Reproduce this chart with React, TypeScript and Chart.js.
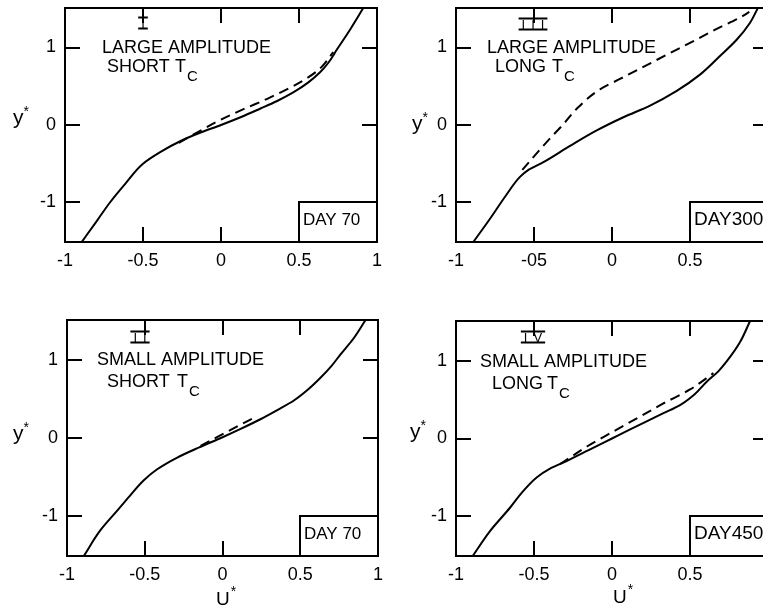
import React, { useEffect, useRef } from "react";
import { Chart, registerables } from "chart.js";

Chart.register(...registerables);

// ---- axis ticks ----
const xTickValues = [-1, -0.5, 0, 0.5, 1];
const xTickLabels = ["-1", "-0.5", "0", "0.5", "1"];
const xTickLabelsIII = ["-1", "-05", "0", "0.5", "1"];
const yTickValues = [-1, 0, 1];
const yTickLabels = ["-1", "0", "1"];

// ---- Panel I : large amplitude, short Tc (day 70) ----
const solidI_u = [-0.893, -0.8, -0.712, -0.61, -0.5, -0.39, -0.252, -0.135, 0.0, 0.125, 0.25, 0.36, 0.463, 0.56, 0.635, 0.687, 0.745, 0.83, 0.912];
const solidI_y = [-1.51, -1.25, -1.0, -0.75, -0.5, -0.35, -0.2, -0.1, 0.0, 0.1, 0.21, 0.31, 0.42, 0.55, 0.68, 0.8, 0.98, 1.24, 1.51];
const dashedI_u = [-0.27, -0.12, 0.0, 0.15, 0.293, 0.506, 0.63, 0.72];
const dashedI_y = [-0.23, -0.06, 0.07, 0.21, 0.335, 0.55, 0.72, 0.94];

// ---- Panel III : large amplitude, long Tc (day 300) ----
const solidIII_u = [-0.889, -0.782, -0.68, -0.59, -0.54, -0.44, -0.269, -0.098, 0.073, 0.244, 0.415, 0.564, 0.692, 0.799, 0.885, 0.935];
const solidIII_y = [-1.51, -1.21, -0.91, -0.67, -0.585, -0.48, -0.27, -0.07, 0.1, 0.25, 0.44, 0.65, 0.89, 1.1, 1.32, 1.51];
const dashedIII_u = [-0.575, -0.419, -0.312, -0.226, -0.077, 0.051, 0.201, 0.35, 0.5, 0.671, 0.842, 0.88];
const dashedIII_y = [-0.58, -0.22, 0.01, 0.21, 0.46, 0.594, 0.75, 0.906, 1.06, 1.24, 1.41, 1.46];

// ---- Panel II : small amplitude, short Tc (day 70) ----
const solidII_u = [-0.892, -0.785, -0.677, -0.6, -0.506, -0.42, -0.291, -0.15, 0.0, 0.12, 0.244, 0.355, 0.459, 0.55, 0.63, 0.7, 0.759, 0.845, 0.92];
const solidII_y = [-1.51, -1.18, -0.93, -0.75, -0.54, -0.4, -0.25, -0.12, 0.01, 0.12, 0.24, 0.36, 0.48, 0.62, 0.77, 0.92, 1.07, 1.28, 1.51];
const dashedII_u = [-0.141, 0.03, 0.212];
const dashedII_y = [-0.1, 0.08, 0.27];

// ---- Panel IV : small amplitude, long Tc (day 450) ----
const solidIV_u = [-0.893, -0.782, -0.654, -0.575, -0.483, -0.4, -0.291, -0.15, 0.0, 0.11, 0.222, 0.33, 0.436, 0.53, 0.607, 0.68, 0.735, 0.821, 0.885];
const solidIV_y = [-1.51, -1.19, -0.89, -0.69, -0.5, -0.39, -0.29, -0.15, 0.0, 0.11, 0.22, 0.325, 0.43, 0.57, 0.73, 0.86, 0.99, 1.24, 1.51];
const dashedIV_u = [-0.333, -0.15, 0.008, 0.17, 0.329, 0.5, 0.65];
const dashedIV_y = [-0.33, -0.09, 0.09, 0.27, 0.45, 0.63, 0.84];

const FONT = "'Liberation Sans', Arial, sans-serif";

type PanelCfg = {
  left: number; top: number; width: number; height: number;
  frameL: number; frameT: number; frameR: number; frameB: number;
  solidU: number[]; solidY: number[]; dashedU: number[]; dashedY: number[];
  xLabels: string[];
  numeral: string; numDx: number; numDy: number;
  line1: string; l1Dx: number; l1Dy: number;
  line2: string; l2Dx: number; l2Dy: number; tDx: number;
  yLabDx: number; yLabDy: number;
  xLab: boolean; xLabDx: number; xLabDy: number;
  day: string; dayFont: number;
};

const panels: PanelCfg[] = [
  {
    left: 0, top: -12, width: 395, height: 300,
    frameL: 65, frameT: 8, frameR: 377, frameB: 242,
    solidU: solidI_u, solidY: solidI_y, dashedU: dashedI_u, dashedY: dashedI_y,
    xLabels: xTickLabels,
    numeral: "I", numDx: 78, numDy: 15,
    line1: "LARGE AMPLITUDE", l1Dx: 37, l1Dy: 40,
    line2: "SHORT", l2Dx: 42, l2Dy: 59, tDx: 68,
    yLabDx: -52, yLabDy: 116,
    xLab: false, xLabDx: 0, xLabDy: 0,
    day: "DAY 70", dayFont: 17,
  },
  {
    left: 391, top: -12, width: 395, height: 300,
    frameL: 456, frameT: 8, frameR: 768, frameB: 242,
    solidU: solidIII_u, solidY: solidIII_y, dashedU: dashedIII_u, dashedY: dashedIII_y,
    xLabels: xTickLabelsIII,
    numeral: "III", numDx: 77, numDy: 16,
    line1: "LARGE AMPLITUDE", l1Dx: 31, l1Dy: 40,
    line2: "LONG", l2Dx: 39, l2Dy: 59, tDx: 57,
    yLabDx: -44, yLabDy: 122,
    xLab: false, xLabDx: 0, xLabDy: 0,
    day: "DAY300", dayFont: 19,
  },
  {
    left: 0, top: 300, width: 395, height: 315,
    frameL: 67, frameT: 320, frameR: 378, frameB: 556,
    solidU: solidII_u, solidY: solidII_y, dashedU: dashedII_u, dashedY: dashedII_y,
    xLabels: xTickLabels,
    numeral: "II", numDx: 73, numDy: 17,
    line1: "SMALL AMPLITUDE", l1Dx: 30, l1Dy: 40,
    line2: "SHORT", l2Dx: 40, l2Dy: 62, tDx: 70,
    yLabDx: -54, yLabDy: 120,
    xLab: true, xLabDx: 149, xLabDy: 42,
    day: "DAY 70", dayFont: 17,
  },
  {
    left: 391, top: 301, width: 395, height: 314,
    frameL: 456, frameT: 321, frameR: 768, frameB: 556,
    solidU: solidIV_u, solidY: solidIV_y, dashedU: dashedIV_u, dashedY: dashedIV_y,
    xLabels: xTickLabels,
    numeral: "IV", numDx: 77, numDy: 16,
    line1: "SMALL AMPLITUDE", l1Dx: 24, l1Dy: 41,
    line2: "LONG", l2Dx: 36, l2Dy: 63, tDx: 55,
    yLabDx: -46, yLabDy: 117,
    xLab: true, xLabDx: 157, xLabDy: 40,
    day: "DAY450", dayFont: 19,
  },
];

function toXY(u: number[], y: number[]) {
  return u.map((v, i) => ({ x: v, y: y[i] }));
}

function Panel({ cfg }: { cfg: PanelCfg }) {
  const ref = useRef<HTMLCanvasElement>(null);
  useEffect(() => {
    const canvas = ref.current;
    if (!canvas) return;
    const padTop = cfg.frameT - cfg.top;
    const padRight = cfg.left + cfg.width - cfg.frameR;
    const yAxisW = cfg.frameL - cfg.left;
    const xAxisH = cfg.top + cfg.height - cfg.frameB;

    const decor = {
      id: "decor",
      afterDraw(chart: any) {
        const ctx: any = chart.ctx;
        const { left: L, top: T, right: R, bottom: B } = chart.chartArea;
        const xs = chart.scales.x;
        const ys = chart.scales.y;
        ctx.save();
        ctx.strokeStyle = "#000";
        ctx.fillStyle = "#000";
        ctx.lineWidth = 2;
        const TL = 15;
        ctx.beginPath();
        for (const v of xTickValues) {
          if (v <= xs.min || v >= xs.max) continue;
          const px = Math.round(xs.getPixelForValue(v));
          ctx.moveTo(px, B);
          ctx.lineTo(px, B - TL);
          ctx.moveTo(px, T);
          ctx.lineTo(px, T + TL);
        }
        for (const v of yTickValues) {
          const py = Math.round(ys.getPixelForValue(v));
          ctx.moveTo(L, py);
          ctx.lineTo(L + TL, py);
          ctx.moveTo(R, py);
          ctx.lineTo(R - TL, py);
        }
        ctx.stroke();

        // DAY box
        const bx = Math.round(xs.getPixelForValue(0.5));
        const by = Math.round(ys.getPixelForValue(-1));
        ctx.fillStyle = "#fff";
        ctx.fillRect(bx, by, R - bx, B - by);
        ctx.strokeRect(bx, by, R - bx, B - by);
        ctx.fillStyle = "#000";
        ctx.font = `${cfg.dayFont}px ${FONT}`;
        ctx.textAlign = "left";
        ctx.textBaseline = "middle";
        ctx.fillText(cfg.day, bx + 4, (by + B) / 2 - 2);

        // frame
        ctx.strokeRect(L, T, R - L, B - T);

        // roman numeral with bars
        ctx.font = `13px ${FONT}`;
        ctx.textAlign = "left";
        ctx.textBaseline = "alphabetic";
        const nx = L + cfg.numDx;
        const ny = T + cfg.numDy;
        const chars = cfg.numeral.split("");
        const gap = 6;
        const widths = chars.map((ch) => ctx.measureText(ch).width);
        const total = widths.reduce((a, b) => a + b, 0) + gap * (chars.length - 1);
        let cx = nx - total / 2;
        chars.forEach((ch, i) => {
          ctx.fillText(ch, cx, ny + 4.7);
          cx += widths[i] + gap;
        });
        const barHalf = total / 2 + 3;
        ctx.lineWidth = 1.8;
        ctx.beginPath();
        ctx.moveTo(nx - barHalf, ny - 5.5);
        ctx.lineTo(nx + barHalf, ny - 5.5);
        ctx.moveTo(nx - barHalf, ny + 5.5);
        ctx.lineTo(nx + barHalf, ny + 5.5);
        ctx.stroke();

        // description lines
        ctx.font = `18px ${FONT}`;
        ctx.textAlign = "left";
        ctx.textBaseline = "middle";
        ctx.fillText(cfg.line1, L + cfg.l1Dx, T + cfg.l1Dy);
        ctx.fillText(cfg.line2, L + cfg.l2Dx, T + cfg.l2Dy);
        const tx = L + cfg.l2Dx + cfg.tDx;
        ctx.fillText("T", tx, T + cfg.l2Dy);
        const tw = ctx.measureText("T").width;
        ctx.font = `15px ${FONT}`;
        ctx.fillText("C", tx + tw + 1, T + cfg.l2Dy + 10);

        // y* label
        ctx.font = `21px ${FONT}`;
        ctx.textBaseline = "alphabetic";
        const ylx = L + cfg.yLabDx;
        const yly = T + cfg.yLabDy;
        ctx.fillText("y", ylx, yly);
        const yw = ctx.measureText("y").width;
        ctx.font = `14px ${FONT}`;
        ctx.fillText("*", ylx + yw, yly - 8);

        // U* label
        if (cfg.xLab) {
          ctx.font = `19px ${FONT}`;
          const ux = L + cfg.xLabDx;
          const uy = B + cfg.xLabDy + 7;
          ctx.textAlign = "left";
          ctx.fillText("U", ux, uy);
          const uw = ctx.measureText("U").width;
          ctx.font = `14px ${FONT}`;
          ctx.fillText("*", ux + uw + 1, uy - 9);
        }
        ctx.restore();
      },
    };

    const lineStyle = {
      showLine: true,
      borderColor: "#000",
      borderWidth: 2,
      pointRadius: 0,
      indexAxis: "y",
      cubicInterpolationMode: "monotone",
      fill: false,
    };

    const chart = new Chart(canvas, {
      type: "scatter",
      data: {
        datasets: [
          { ...lineStyle, data: toXY(cfg.solidU, cfg.solidY) },
          { ...lineStyle, borderDash: [10, 6], data: toXY(cfg.dashedU, cfg.dashedY) },
        ],
      } as any,
      options: {
        animation: false,
        responsive: false,
        maintainAspectRatio: false,
        events: [],
        layout: { padding: { top: padTop, right: padRight, left: 0, bottom: 0 } },
        plugins: { legend: { display: false }, tooltip: { enabled: false } },
        scales: {
          x: {
            type: "linear",
            min: -1,
            max: 1,
            grid: { display: false, drawTicks: false },
            border: { display: false },
            afterBuildTicks: (scale: any) => {
              scale.ticks = xTickValues.map((v) => ({ value: v }));
            },
            afterFit: (scale: any) => {
              scale.height = xAxisH;
            },
            ticks: {
              autoSkip: false,
              maxRotation: 0,
              padding: 8,
              color: "#000",
              font: { family: FONT, size: 18 },
              callback: (_v: any, i: number) => cfg.xLabels[i],
            },
          },
          y: {
            type: "linear",
            min: -1.51,
            max: 1.51,
            grid: { display: false, drawTicks: false },
            border: { display: false },
            afterBuildTicks: (scale: any) => {
              scale.ticks = yTickValues.map((v) => ({ value: v }));
            },
            afterFit: (scale: any) => {
              scale.width = yAxisW;
            },
            ticks: {
              autoSkip: false,
              padding: 9,
              color: "#000",
              font: { family: FONT, size: 18 },
              callback: (_v: any, i: number) => yTickLabels[i],
            },
          },
        },
      } as any,
      plugins: [decor],
    });
    return () => chart.destroy();
  }, [cfg]);

  return (
    <canvas
      ref={ref}
      width={cfg.width}
      height={cfg.height}
      style={{ position: "absolute", left: cfg.left, top: cfg.top, width: cfg.width, height: cfg.height }}
    />
  );
}

export default function App() {
  return (
    <div
      style={{
        position: "fixed",
        left: 0,
        top: 0,
        width: 763,
        height: 615,
        overflow: "hidden",
        background: "#fff",
      }}
    >
      {panels.map((p, i) => (
        <Panel key={i} cfg={p} />
      ))}
    </div>
  );
}
